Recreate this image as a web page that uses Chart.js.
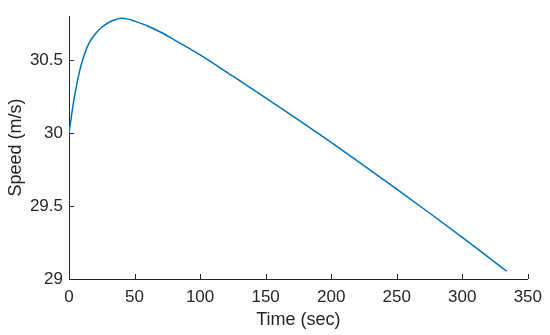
<!DOCTYPE html>
<html>
<head>
<meta charset="utf-8">
<script src="https://cdn.jsdelivr.net/npm/chart.js@4"></script>
<style>
  html, body { margin: 0; padding: 0; background: #fff; }
  #wrap { width: 550px; height: 335px; }
</style>
</head>
<body>
<div id="wrap"><canvas id="chart1"></canvas></div>
<script>
// data
const timeSec = [0, 2, 4, 6, 8, 10, 12, 15, 20, 25, 30, 35, 40, 45, 50, 60, 70, 80, 90, 100,
  125, 150, 175, 200, 225, 250, 275, 300, 325, 334];
const speedMs = [30.00, 30.125, 30.24, 30.335, 30.42, 30.488, 30.545, 30.61, 30.678, 30.724, 30.755,
  30.776, 30.786, 30.780, 30.766, 30.733, 30.690, 30.640, 30.588, 30.535,
  30.389, 30.241, 30.090, 29.935, 29.777, 29.616, 29.452, 29.285, 29.114, 29.053];
const xTicks = [0, 50, 100, 150, 200, 250, 300, 350];
const yTicks = [29, 29.5, 30, 30.5];

const axisColor = "#262626";
const font = { family: "'Liberation Sans', Arial, sans-serif", size: 17 };

// MATLAB style ticks pointing into the plot
const inwardTicks = {
  id: "inwardTicks",
  afterDraw(chart) {
    const { ctx, scales: { x, y } } = chart;
    ctx.save();
    ctx.strokeStyle = axisColor;
    ctx.lineWidth = 1;
    ctx.beginPath();
    xTicks.forEach((v) => {
      const px = Math.round(x.getPixelForValue(v)) + 0.5;
      ctx.moveTo(px, y.bottom);
      ctx.lineTo(px, y.bottom - 5);
    });
    yTicks.forEach((v) => {
      const py = Math.round(y.getPixelForValue(v)) + 0.5;
      ctx.moveTo(x.left, py);
      ctx.lineTo(x.left + 5, py);
    });
    ctx.stroke();
    ctx.restore();
  },
};

const ctx1 = document.getElementById("chart1").getContext("2d");
new Chart(ctx1, {
  type: "line",
  data: {
    datasets: [
      {
        data: timeSec.map((t, i) => ({ x: t, y: speedMs[i] })),
        borderColor: "#0072BD",
        borderWidth: 1.5,
        pointRadius: 0,
        fill: false,
        cubicInterpolationMode: "monotone",
      },
    ],
  },
  options: {
    responsive: true,
    maintainAspectRatio: false,
    animation: false,
    layout: { padding: { top: 8, right: 19, left: 0, bottom: 0 } },
    plugins: { legend: { display: false }, tooltip: { enabled: false } },
    scales: {
      x: {
        type: "linear",
        min: 0,
        max: 350,
        grid: { display: false, drawTicks: false },
        border: { display: true, color: axisColor, width: 1 },
        afterBuildTicks: (s) => { s.ticks = xTicks.map((v) => ({ value: v })); },
        afterFit: (s) => { s.height = 56; },
        ticks: { color: axisColor, font: font, padding: 8, maxRotation: 0, callback: (v) => String(v) },
        title: {
          display: true,
          text: "Time (sec)",
          color: axisColor,
          font: { family: font.family, size: 18 },
          padding: { top: 0, bottom: 4 },
        },
      },
      y: {
        type: "linear",
        min: 29,
        max: 30.8,
        grid: { display: false, drawTicks: false },
        border: { display: true, color: axisColor, width: 1 },
        afterBuildTicks: (s) => { s.ticks = yTicks.map((v) => ({ value: v })); },
        afterFit: (s) => { s.width = 69; },
        ticks: { color: axisColor, font: font, padding: 6, callback: (v) => String(v) },
        title: {
          display: true,
          text: "Speed (m/s)",
          color: axisColor,
          font: { family: font.family, size: 18 },
          padding: { top: 5, bottom: 0 },
        },
      },
    },
  },
  plugins: [inwardTicks],
});
</script>
</body>
</html>
